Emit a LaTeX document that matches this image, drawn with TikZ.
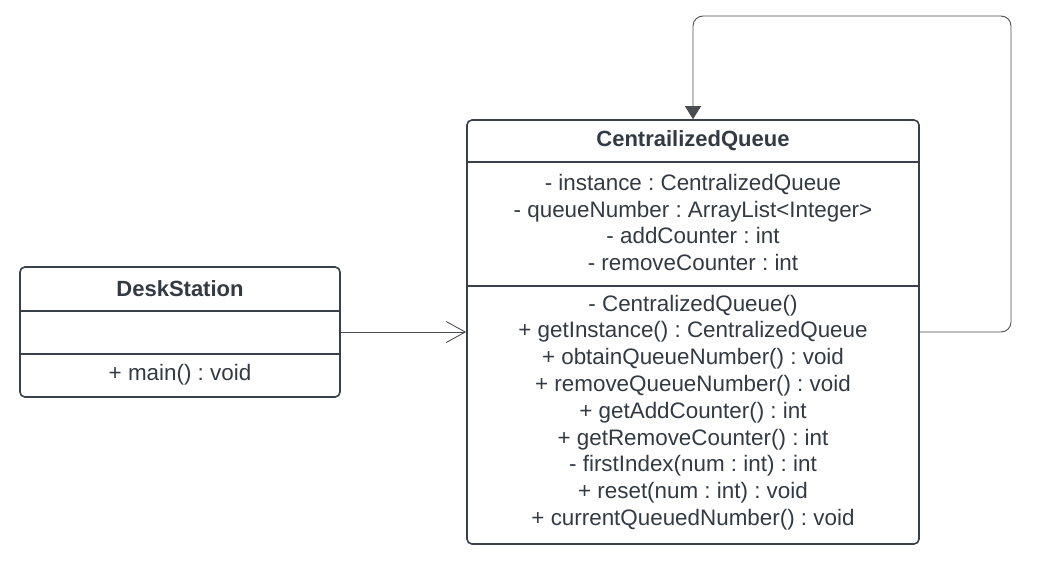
\documentclass[tikz,border=0pt]{standalone}
\usepackage{fontspec}
\setmainfont{Liberation Sans}
\usetikzlibrary{arrows.meta}
\definecolor{umlline}{HTML}{3A4049}
\definecolor{umltext}{HTML}{333A44}
\definecolor{linkline}{HTML}{4A4D52}
\frenchspacing
\begin{document}
\begin{tikzpicture}[x=1pt,y=-1pt,
  classbox/.style={draw=umlline,line width=1.6pt,rounded corners=5pt,
    rectangle,inner sep=0pt,fill=white},
  divider/.style={draw=umlline,line width=1.6pt},
  classname/.style={font=\fontsize{22}{26}\selectfont\bfseries,text=umltext,inner sep=0pt},
  members/.style={font=\fontsize{22.4}{26.8}\selectfont,text=umltext,align=center,inner sep=0pt},
  assoc/.style={draw=linkline,line width=0.9pt,-{Straight Barb[length=19pt,width=21pt,line width=0.9pt]}},
  selfref/.style={draw=linkline,line width=0.9pt,rounded corners=10pt,-{Triangle[length=13pt,width=16pt]}}]
\useasboundingbox (0,0) rectangle (1039,566);

% DeskStation class
\node[classbox,minimum width=320pt,minimum height=130pt] (ds) at (180,332) {};
\draw[divider] (20,311) coordinate (dsA) -- (340,311);
\draw[divider] (20,354) coordinate (dsB) -- (340,354);
\node[classname] (dsname) at (180,289) {DeskStation};
\node[members] (dsops) at (180,375) {+ main() : void};

% CentralizedQueue class
\node[classbox,minimum width=452pt,minimum height=424pt] (cq) at (693,332) {};
\draw[divider] (467,162) -- (919,162);
\draw[divider] (467,286) -- (919,286);
\node[classname] (cqname) at (693,141) {CentrailizedQueue};
\node[members] (cqattrs) at (693,222.5) {- instance : CentralizedQueue\\
  - queueNumber : ArrayList<Integer>\\
  - addCounter : int\\
  - removeCounter : int};
\node[members] (cqops) at (693,412.5) {- CentralizedQueue()\\
  + getInstance() : CentralizedQueue\\
  + obtainQueueNumber() : void\\
  + removeQueueNumber() : void\\
  + getAddCounter() : int\\
  + getRemoveCounter() : int\\
  - firstIndex(num : int) : int\\
  + reset(num : int) : void\\
  + currentQueuedNumber() : void};

% connectors
\draw[assoc] (ds.east) -- (cq.west);
\coordinate (loopcorner) at (1011,16);
\draw[selfref] (cq.east) -| (loopcorner) -| (cq.north);
\end{tikzpicture}
\end{document}
